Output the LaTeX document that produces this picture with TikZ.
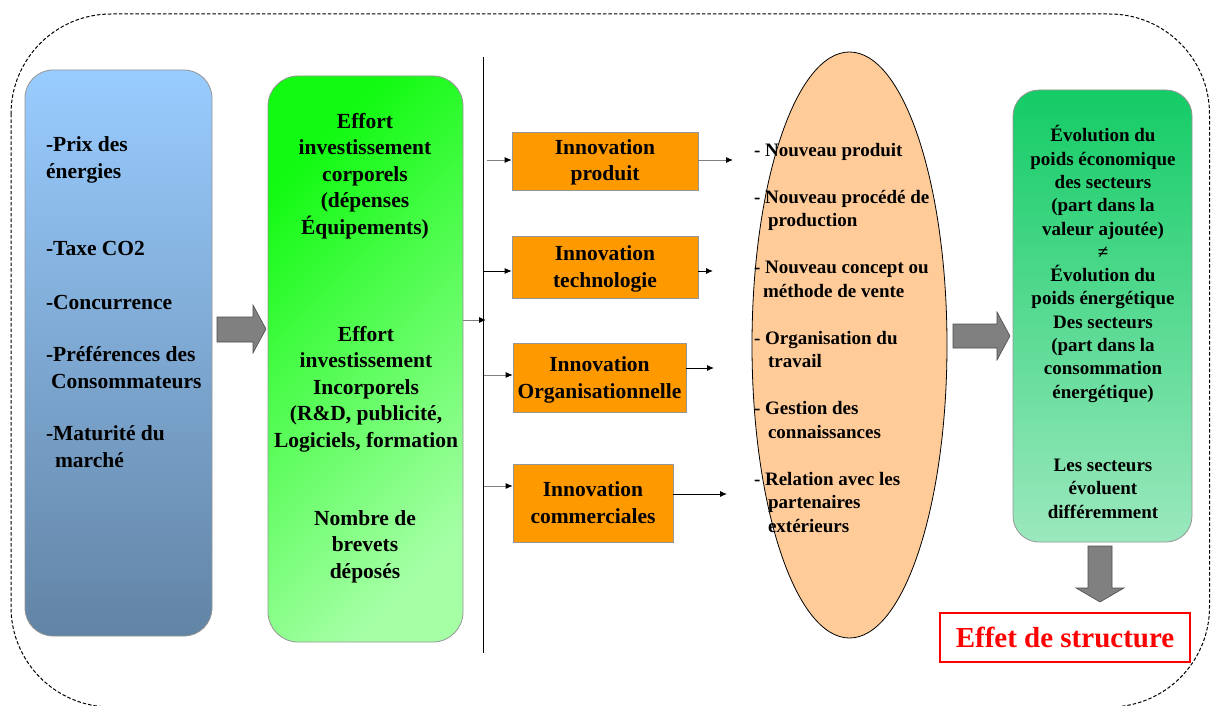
\documentclass[tikz,border=0pt]{standalone}
\usepackage{fontspec}
\setmainfont{Liberation Serif}
\usetikzlibrary{arrows.meta,shapes.geometric}
\definecolor{bluetop}{RGB}{153,204,255}
\definecolor{bluebot}{RGB}{98,132,165}
\definecolor{greentl}{RGB}{17,250,17}
\definecolor{greenbr}{RGB}{165,255,165}
\definecolor{tealtop}{RGB}{20,204,102}
\definecolor{tealbot}{RGB}{155,232,190}
\definecolor{orangebox}{RGB}{255,153,0}
\definecolor{peach}{RGB}{255,204,153}
\definecolor{boxline}{RGB}{150,150,150}
\definecolor{arrowgray}{RGB}{128,128,128}
\definecolor{effred}{RGB}{255,0,0}
\begin{document}
\begin{tikzpicture}[x=1pt,y=-1pt,
  bigfont/.style={font=\fontsize{21.5}{26.5}\selectfont\bfseries},
  smallfont/.style={font=\fontsize{19}{23.5}\selectfont\bfseries},
  rightfont/.style={font=\fontsize{19}{23.3}\selectfont\bfseries},
  panel/.style={draw=boxline, line width=0.8pt, rounded corners=28pt, inner sep=0pt},
  innov/.style={draw=boxline, line width=0.6pt, fill=orangebox, inner sep=0pt},
  innovtext/.style={inner sep=0pt, bigfont, align=center},
  txt/.style={inner sep=0pt, outer sep=0pt},
  link/.style={draw=arrowgray, line width=0.9pt, -{Latex[length=7pt,width=6pt,color=black]}},
  blacklink/.style={draw=black, line width=0.9pt, -{Latex[length=7pt,width=6pt,color=black]}},
  blockarrow/.style={fill=arrowgray, draw=black!70, line width=0.6pt}
]
\useasboundingbox (0,0) rectangle (1211,706);
% outer frame
\draw[black, dash pattern=on 3.5pt off 2pt, line width=1pt, rounded corners=100pt] (11,14) rectangle (1209.5,707);

% left panel
\node[panel, minimum width=187pt, minimum height=566pt, top color=bluetop, bottom color=bluebot] (ctx) at (118.5,353) {};
\node[txt, bigfont, align=left, anchor=base west] (ctxtext) at (46,467) {-Prix des\\énergies\\[51pt]-Taxe CO2\\[27pt]-Concurrence\\[26pt]-Préférences des\\\hspace*{5pt}Consommateurs\\[26pt]-Maturité du\\\hspace*{9pt}marché};

% green panel
\node[panel, rounded corners=30pt, minimum width=195pt, minimum height=566pt, top color=greentl, bottom color=greenbr, shading angle=45] (eff) at (365.5,359) {};
\node[txt, bigfont, align=center, anchor=base] (g1) at (365,234) {Effort\\investissement\\corporels\\(dépenses\\Équipements)};
\node[txt, bigfont, align=center, anchor=base] (g2) at (366,447) {Effort\\investissement\\Incorporels\\(R\&D, publicité,\\Logiciels, formation};
\node[txt, bigfont, align=center, anchor=base] (g3) at (365,578) {Nombre de\\brevets\\déposés};

% vertical line
\coordinate (vtop) at (483,57);
\coordinate (vbot) at (483,653);
\draw[line width=1pt] (vtop) -- (vbot);

% innovation boxes
\node[innov, minimum width=186pt, minimum height=58pt] (box1) at (605,161) {};
\node[innov, minimum width=186pt, minimum height=62pt] (box2) at (605,267) {};
\node[innov, minimum width=173pt, minimum height=69pt] (box3) at (599.5,377.5) {};
\node[innov, minimum width=160pt, minimum height=78pt] (box4) at (593,503) {};
\node[innovtext, anchor=base] (t1) at (605,181) {Innovation\\produit};
\node[innovtext, anchor=base] (t2) at (605,287) {Innovation\\technologie};
\node[innovtext, anchor=base] (t3) at (599.5,398) {Innovation\\Organisationnelle};
\node[innovtext, anchor=base] (t4) at (593,523) {Innovation\\commerciales};

% ellipse
\node[ellipse, draw=black, line width=0.8pt, fill=peach, minimum width=195pt, minimum height=586pt, inner sep=0pt] (ell) at (849.5,345) {};
\node[txt, smallfont, align=left, anchor=base west] (list) at (754,532) {- Nouveau produit\\[23.5pt]- Nouveau procédé de\\\hspace*{14pt}production\\[23.5pt]- Nouveau concept ou\\\hspace*{9pt}méthode de vente\\[23.5pt]- Organisation du\\\hspace*{14pt}travail\\[23.5pt]- Gestion des\\\hspace*{14pt}connaissances\\[23.5pt]- Relation avec les\\\hspace*{14pt}partenaires\\\hspace*{14pt}extérieurs};

% right panel
\node[panel, rounded corners=26pt, minimum width=179pt, minimum height=452pt, top color=tealtop, bottom color=tealbot] (res) at (1102.5,316) {};
\node[txt, rightfont, align=center, anchor=base] (restext) at (1103,518) {Évolution du\\poids économique\\des secteurs\\(part dans la\\valeur ajoutée)\\≠\\Évolution du\\poids énergétique\\Des secteurs\\(part dans la\\consommation\\énergétique)\\[50pt]Les secteurs\\évoluent\\différemment};

% effet de structure
\node[draw=effred, line width=2.5pt, minimum width=250pt, minimum height=49pt, inner sep=0pt, text=effred, font=\fontsize{29}{34}\selectfont\bfseries] (effet) at (1065,637.5) {Effet de structure};

% block arrows
\draw[blockarrow] (217,317) -- (253,317) -- (253,305) -- (266,329) -- (253,353) -- (253,342) -- (217,342) -- cycle;
\draw[blockarrow] (953,324) -- (997,324) -- (997,312) -- (1010,336) -- (997,360) -- (997,348) -- (953,348) -- cycle;
\draw[blockarrow] (1088,546) -- (1112,546) -- (1112,588) -- (1124,588) -- (1100,602) -- (1076,588) -- (1088,588) -- cycle;

% small connectors
\coordinate (j0) at (486,320);
\draw[link] (eff.east |- j0) -- (j0);
\coordinate (i1) at (487,160);
\coordinate (i2) at (484,271);
\coordinate (i3) at (484,375);
\coordinate (i4) at (484,486);
\draw[link] (i1) -- (box1.west |- i1);
\draw[blacklink] (i2) -- (box2.west |- i2);
\draw[link] (i3) -- (box3.west |- i3);
\draw[link] (i4) -- (box4.west |- i4);
\coordinate (o1) at (733,160);
\coordinate (o2) at (713,271);
\coordinate (o3) at (714,368);
\coordinate (o4) at (727,494);
\draw[link] (box1.east |- o1) -- (o1);
\draw[blacklink] (box2.east |- o2) -- (o2);
\draw[blacklink] (box3.east |- o3) -- (o3);
\draw[blacklink] (box4.east |- o4) -- (o4);
\end{tikzpicture}
\end{document}
